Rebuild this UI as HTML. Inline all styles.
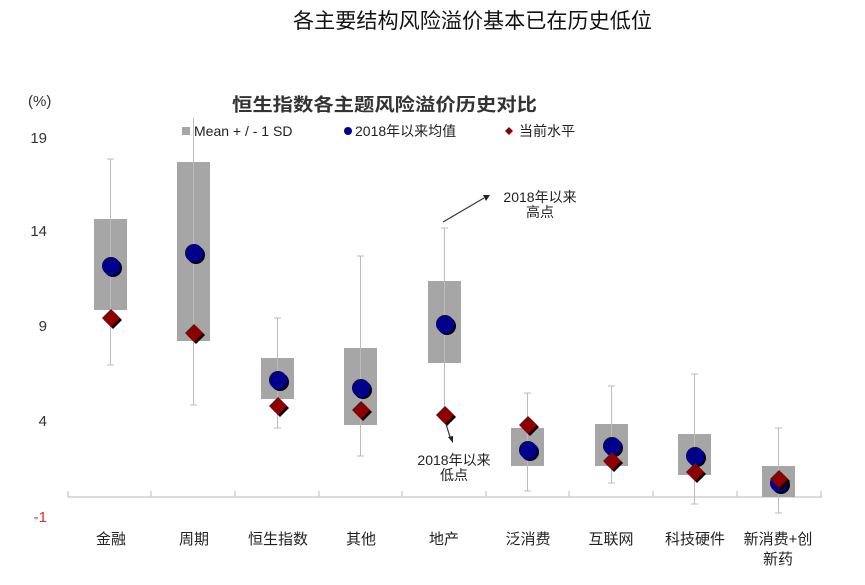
<!DOCTYPE html>
<html><head><meta charset="utf-8"><style>
html,body{margin:0;padding:0;background:#fff;}
svg{display:block;font-family:"Liberation Sans","Noto Sans CJK SC",sans-serif;}
</style></head><body>
<svg width="865" height="585" viewBox="0 0 865 585" xmlns="http://www.w3.org/2000/svg">
<text x="293" y="28" font-size="21" fill="#111" textLength="359" lengthAdjust="spacingAndGlyphs">各主要结构风险溢价基本已在历史低位</text>
<text x="232" y="111" font-size="18" font-weight="bold" fill="#333" textLength="305" lengthAdjust="spacingAndGlyphs">恒生指数各主题风险溢价历史对比</text>
<text x="28" y="106" font-size="15" fill="#333">(%)</text>
<g font-size="15" fill="#333" text-anchor="end">
<text x="47" y="143">19</text><text x="47" y="236">14</text><text x="47" y="331">9</text><text x="47" y="426">4</text>
<text x="47" y="522" fill="#ff2020">-1</text></g>
<!-- legend -->
<rect x="182" y="127" width="8" height="8" fill="#a6a6a6"/>
<text x="194" y="136" font-size="14" fill="#222">Mean + / - 1 SD</text>
<circle cx="348" cy="131" r="4" fill="#00008b"/>
<text x="355" y="136" font-size="14" fill="#222">2018年以来均值</text>
<path d="M509 127 L513 131 509 135 505 131Z" fill="#8b0000"/>
<text x="519" y="136" font-size="14" fill="#222">当前水平</text>
<!-- axis -->
<g stroke="#d0d0d0" stroke-width="1.5">
<line x1="68" y1="497" x2="822" y2="497"/>
<line x1="68" y1="491" x2="68" y2="497"/><line x1="151" y1="491" x2="151" y2="497"/><line x1="235" y1="491" x2="235" y2="497"/><line x1="319" y1="491" x2="319" y2="497"/><line x1="402" y1="491" x2="402" y2="497"/><line x1="486" y1="491" x2="486" y2="497"/><line x1="569" y1="491" x2="569" y2="497"/><line x1="653" y1="491" x2="653" y2="497"/><line x1="737" y1="491" x2="737" y2="497"/><line x1="821" y1="491" x2="821" y2="497"/>
</g>
<!-- boxes -->
<g fill="#a6a6a6">
<rect x="94" y="219" width="33" height="91"/>
<rect x="177" y="162" width="33" height="179"/>
<rect x="261" y="358" width="33" height="41"/>
<rect x="344" y="348" width="33" height="77"/>
<rect x="428" y="281" width="33" height="82"/>
<rect x="511" y="428" width="33" height="38"/>
<rect x="595" y="424" width="33" height="42"/>
<rect x="678" y="434" width="33" height="41"/>
<rect x="762" y="466" width="33" height="31"/>
</g>
<!-- whiskers -->
<g stroke="#bbb" stroke-width="1">
<line x1="110.5" y1="159" x2="110.5" y2="365"/><line x1="107" y1="159" x2="114" y2="159"/><line x1="107" y1="365" x2="114" y2="365"/>
<line x1="193.5" y1="118" x2="193.5" y2="405"/><line x1="190" y1="405" x2="197" y2="405"/>
<line x1="277.5" y1="318" x2="277.5" y2="428"/><line x1="274" y1="318" x2="281" y2="318"/><line x1="274" y1="428" x2="281" y2="428"/>
<line x1="360.5" y1="256" x2="360.5" y2="456"/><line x1="357" y1="256" x2="364" y2="256"/><line x1="357" y1="456" x2="364" y2="456"/>
<line x1="444.5" y1="228" x2="444.5" y2="420"/><line x1="441" y1="228" x2="448" y2="228"/>
<line x1="527.5" y1="393" x2="527.5" y2="491"/><line x1="524" y1="393" x2="531" y2="393"/><line x1="524" y1="491" x2="531" y2="491"/>
<line x1="611.5" y1="386" x2="611.5" y2="483"/><line x1="608" y1="386" x2="615" y2="386"/><line x1="608" y1="483" x2="615" y2="483"/>
<line x1="694.5" y1="374" x2="694.5" y2="504"/><line x1="691" y1="374" x2="698" y2="374"/><line x1="691" y1="504" x2="698" y2="504"/>
<line x1="778.5" y1="428" x2="778.5" y2="513"/><line x1="775" y1="428" x2="782" y2="428"/><line x1="775" y1="513" x2="782" y2="513"/>
</g>
<!-- circles -->
<g>
<g fill="#000"><circle cx="113" cy="268" r="9"/><circle cx="196" cy="255" r="9"/><circle cx="280" cy="382" r="9"/><circle cx="363" cy="390" r="9"/><circle cx="447" cy="326" r="9"/><circle cx="530" cy="452" r="9"/><circle cx="614" cy="448" r="9"/><circle cx="697" cy="458" r="9"/><circle cx="781" cy="485" r="9"/></g>
<g fill="#00008b"><circle cx="111" cy="266" r="9"/><circle cx="194" cy="253" r="9"/><circle cx="278" cy="380" r="9"/><circle cx="361" cy="388" r="9"/><circle cx="445" cy="324" r="9"/><circle cx="528" cy="450" r="9"/><circle cx="612" cy="446" r="9"/><circle cx="695" cy="456" r="9"/><circle cx="779" cy="483" r="9"/></g>
</g>
<!-- diamonds -->
<g>
<g fill="#000">
<path d="M113 311 l9 9 -9 9 -9 -9Z"/><path d="M196 326 l9 9 -9 9 -9 -9Z"/><path d="M280 399 l9 9 -9 9 -9 -9Z"/><path d="M363 403 l9 9 -9 9 -9 -9Z"/><path d="M447 408 l9 9 -9 9 -9 -9Z"/><path d="M530 418 l9 9 -9 9 -9 -9Z"/><path d="M614 454 l9 9 -9 9 -9 -9Z"/><path d="M697 465 l9 9 -9 9 -9 -9Z"/><path d="M781 472 l9 9 -9 9 -9 -9Z"/></g>
<g fill="#8b0000">
<path d="M111 309 l9 9 -9 9 -9 -9Z"/><path d="M194 324 l9 9 -9 9 -9 -9Z"/><path d="M278 397 l9 9 -9 9 -9 -9Z"/><path d="M361 401 l9 9 -9 9 -9 -9Z"/><path d="M445 406 l9 9 -9 9 -9 -9Z"/><path d="M528 416 l9 9 -9 9 -9 -9Z"/><path d="M612 452 l9 9 -9 9 -9 -9Z"/><path d="M695 463 l9 9 -9 9 -9 -9Z"/><path d="M779 470 l9 9 -9 9 -9 -9Z"/></g>
</g>
<!-- annotations -->
<line x1="443" y1="222" x2="484" y2="198" stroke="#333" stroke-width="1.2"/>
<path d="M490 195 l-7 0 3 6Z" fill="#222"/>
<text x="540" y="202" font-size="14" fill="#222" text-anchor="middle">2018年以来</text>
<text x="540" y="217" font-size="14" fill="#222" text-anchor="middle">高点</text>
<line x1="446" y1="424" x2="450" y2="437" stroke="#333" stroke-width="1.2"/>
<path d="M453 443 l-5 -6 5 -1Z" fill="#222"/>
<text x="454" y="465" font-size="14" fill="#222" text-anchor="middle">2018年以来</text>
<text x="454" y="480" font-size="14" fill="#222" text-anchor="middle">低点</text>
<!-- category labels -->
<g font-size="15" fill="#222" text-anchor="middle">
<text x="111" y="544">金融</text><text x="194" y="544">周期</text><text x="278" y="544">恒生指数</text><text x="361" y="544">其他</text><text x="444" y="544">地产</text><text x="528" y="544">泛消费</text><text x="611" y="544">互联网</text><text x="695" y="544">科技硬件</text><text x="778" y="544">新消费+创</text><text x="778" y="564">新药</text>
</g>
</svg>
</body></html>
